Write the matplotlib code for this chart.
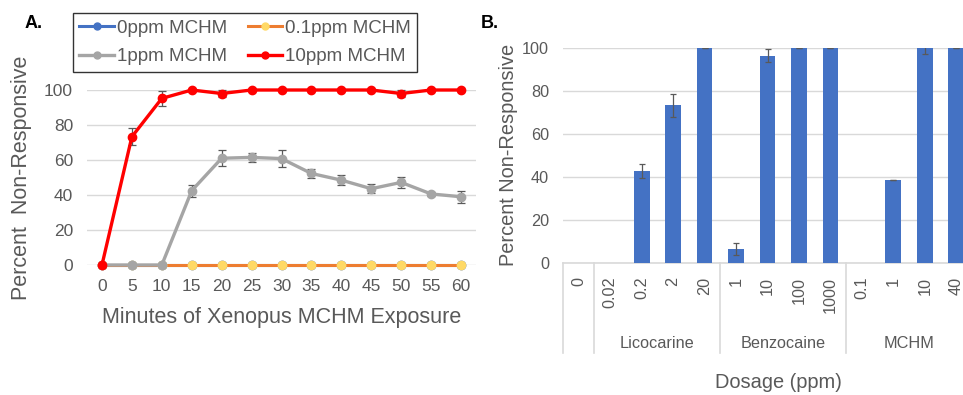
import matplotlib
matplotlib.use("Agg")
import matplotlib.pyplot as plt
from matplotlib.lines import Line2D
from matplotlib.transforms import blended_transform_factory

plt.rcParams['font.family'] = ['Liberation Sans', 'DejaVu Sans']

# ---------------- Panel A data ----------------
minutes = [0, 5, 10, 15, 20, 25, 30, 35, 40, 45, 50, 55, 60]
ppm0 = [0, 0, 0, 0, 0, 0, 0, 0, 0, 0, 0, 0, 0]
ppm01 = [0, 0, 0, 0, 0, 0, 0, 0, 0, 0, 0, 0, 0]
ppm1 = [0, 0, 0, 42.5, 61, 61.5, 60.8, 52.3, 48.5, 43.6, 47.2, 40.6, 39]
ppm1_err = [0, 0, 0, 3.5, 4.5, 2.5, 5, 2.5, 3, 2.5, 3, 1, 3.5]
ppm10 = [0, 73.3, 95.2, 100, 98, 100, 100, 100, 100, 100, 98, 100, 100]
ppm10_err = [0, 5, 4.5, 0, 2, 0, 0, 0, 0, 0, 2, 0, 0]
series_names = ['0ppm MCHM', '0.1ppm MCHM', '1ppm MCHM', '10ppm MCHM']

# ---------------- Panel B data ----------------
dose_labels = ['0', '0.02', '0.2', '2', '20', '1', '10', '100', '1000', '0.1', '1', '10', '40']
groups = ['Licocarine', 'Benzocaine', 'MCHM']
group_ranges = [(1, 4), (5, 8), (9, 12)]
bar_values = [0, 0, 42.8, 73.3, 100, 6.2, 96.4, 100, 100, 0, 38.5, 100, 100]
bar_err = [0, 0, 3.2, 5.5, 0, 2.8, 3, 0, 0, 0, 0, 3, 0]

W, H = 963, 395
fig = plt.figure(figsize=(W / 100, H / 100), dpi=100)

TXT = '#595959'
GRID = '#D9D9D9'

def fx(px):
    return px / W

def fy(py):
    return 1 - py / H

# ---------------- Panel A ----------------
axA = fig.add_axes([fx(87), fy(265), fx(476) - fx(87), fy(90) - fy(265)])
xA = list(range(len(minutes)))
axA.plot(xA, ppm0, color='#4472C4', lw=2.2, marker='o', ms=6, mfc='#4472C4', mec='#4472C4', clip_on=False, zorder=3)
axA.plot(xA, ppm01, color='#ED7D31', lw=2.2, marker='o', ms=6, mfc='#FFD966', mec='#FFD966', clip_on=False, zorder=4)
axA.errorbar(xA, ppm1, yerr=ppm1_err, color='#A5A5A5', lw=2.4, marker='o', ms=6,
             ecolor='#595959', elinewidth=0.9, capsize=3, capthick=0.9, clip_on=False, zorder=5)
axA.errorbar(xA, ppm10, yerr=ppm10_err, color='#FF0000', lw=2.4, marker='o', ms=6,
             ecolor='#595959', elinewidth=0.9, capsize=3, capthick=0.9, clip_on=False, zorder=6)
axA.set_xlim(-0.5, len(minutes) - 0.5)
axA.set_ylim(0, 100)
axA.set_yticks([0, 20, 40, 60, 80, 100])
axA.set_xticks(xA)
axA.set_xticklabels([str(m) for m in minutes])
axA.tick_params(axis='both', length=0, labelsize=12.5, labelcolor=TXT)
axA.tick_params(axis='x', pad=10)
axA.tick_params(axis='y', pad=10)
axA.grid(axis='y', color=GRID, lw=1)
axA.set_axisbelow(True)
for s in axA.spines.values():
    s.set_visible(False)
fig.text(fx(282), fy(317), 'Minutes of Xenopus MCHM Exposure', ha='center', va='center',
         fontsize=15.5, color=TXT)
fig.text(fx(22), fy(178), 'Percent  Non-Responsive', ha='center', va='center',
         rotation=90, fontsize=15.5, color=TXT)
fig.text(fx(25), fy(24), 'A.', ha='left', va='center', fontsize=13, fontweight='bold', color='black')

handles = [
    Line2D([], [], color='#4472C4', lw=2.2, marker='o', ms=5, mfc='#4472C4', mec='#4472C4'),
    Line2D([], [], color='#ED7D31', lw=2.2, marker='o', ms=5, mfc='#FFD966', mec='#FFD966'),
    Line2D([], [], color='#A5A5A5', lw=2.4, marker='o', ms=5),
    Line2D([], [], color='#FF0000', lw=2.4, marker='o', ms=5),
]
order = [0, 2, 1, 3]  # row-wise fill for a 2-column legend
leg = fig.legend([handles[i] for i in order], [series_names[i] for i in order], ncol=2, loc='center',
                 bbox_to_anchor=(fx(245), fy(42.5)), fontsize=13.5, frameon=True,
                 fancybox=False, edgecolor='black', handlelength=1.85, handletextpad=0.15,
                 columnspacing=1.1, labelspacing=0.6, borderpad=0.35, labelcolor=TXT)
leg.get_frame().set_linewidth(1.0)

# ---------------- Panel B ----------------
axB = fig.add_axes([fx(563), fy(262.7), fx(972) - fx(563), fy(48) - fy(262.7)])
xB = list(range(len(dose_labels)))
axB.bar(xB, bar_values, width=0.5, color='#4472C4', zorder=3)
xe = [x for x, v in zip(xB, bar_values) if v > 0]
ve = [v for v in bar_values if v > 0]
ee = [e for e, v in zip(bar_err, bar_values) if v > 0]
axB.errorbar(xe, ve, yerr=ee, fmt='none', ecolor='#595959', elinewidth=0.9,
             capsize=2.5, capthick=0.9, zorder=4)
axB.set_xlim(-0.5, len(dose_labels) - 0.5)
axB.set_ylim(0, 100)
axB.set_yticks([0, 20, 40, 60, 80, 100])
axB.set_xticks(xB)
axB.set_xticklabels(dose_labels, rotation=90)
axB.tick_params(axis='both', length=0, labelsize=11.7, labelcolor=TXT)
axB.tick_params(axis='x', pad=10)
axB.tick_params(axis='y', pad=10)
axB.grid(axis='y', color=GRID, lw=1)
axB.set_axisbelow(True)
for s in axB.spines.values():
    s.set_visible(False)
tr = blended_transform_factory(axB.transData, axB.transAxes)
axB.plot([-0.5, len(dose_labels) - 0.5], [0, 0], transform=tr, color=GRID, lw=1.2, clip_on=False, zorder=2)
ybot = -(353 - 262.7) / (262.7 - 48)
for xs in [-0.5, 0.5, 4.5, 8.5, 12.5]:
    axB.plot([xs, xs], [0, ybot], transform=tr, color=GRID, lw=1.2, clip_on=False)
ygrp = -(343 - 262.7) / (262.7 - 48)
for name, (a, b) in zip(groups, group_ranges):
    axB.text((a + b) / 2, ygrp, name, transform=tr, ha='center', va='center', fontsize=11.7, color=TXT)
fig.text(fx(778), fy(382), 'Dosage (ppm)', ha='center', va='center', fontsize=14.4, color=TXT)
fig.text(fx(509), fy(155), 'Percent Non-Responsive', ha='center', va='center',
         rotation=90, fontsize=14.4, color=TXT)
fig.text(fx(481), fy(23), 'B.', ha='left', va='center', fontsize=13, fontweight='bold', color='black')

fig.savefig('out.png', dpi=100)
